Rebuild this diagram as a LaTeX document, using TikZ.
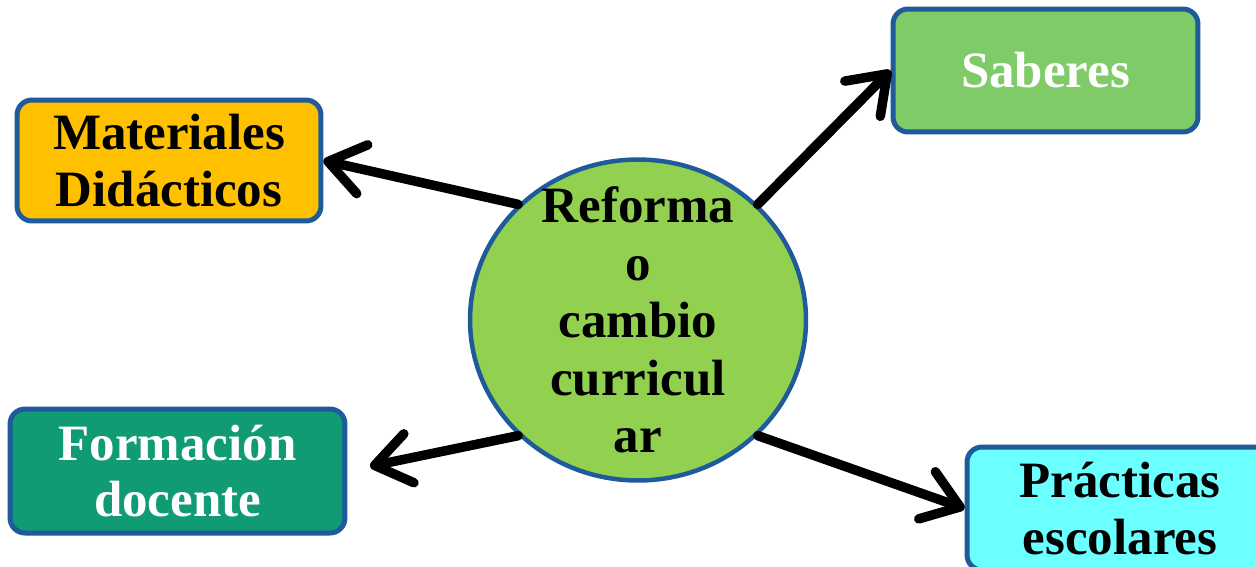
\documentclass[tikz,border=0pt]{standalone}
\usepackage{fontspec}
\setmainfont{Liberation Serif}
\usetikzlibrary{arrows.meta,shapes.geometric}

\definecolor{borde}{HTML}{1F5A9A}
\definecolor{amarillo}{HTML}{FFC000}
\definecolor{verdeclaro}{HTML}{7ECB67}
\definecolor{verdeoscuro}{HTML}{119B74}
\definecolor{celeste}{HTML}{6CFFFF}
\definecolor{verdecirc}{HTML}{92D050}

\tikzset{
  caja/.style={draw=borde, line width=0.1cm, rounded corners=0.3cm, align=center,
    font=\fontsize{29}{32}\selectfont\bfseries, inner sep=0pt},
  centro/.style={ellipse, draw=borde, line width=0.09cm, fill=verdecirc,
    minimum width=6.72cm, minimum height=6.42cm, inner sep=0pt},
  flecha/.style={line width=0.19cm, line cap=round,
    -{Straight Barb[length=0.7cm,width=1.0cm,line cap=round,line join=round]}}
}

\begin{document}
\begin{tikzpicture}[x=0.02cm, y=-0.02cm]
\clip (0, 0) rectangle (1256, 566);
\fill[white] (0, 0) rectangle (1256, 566);
\node[caja, fill=amarillo, minimum width=6.08cm, minimum height=2.42cm] (mat) at (169, 160.5) {Materiales\\Didácticos};
\node[caja, fill=verdeclaro, text=white, minimum width=6.1cm, minimum height=2.46cm] (sab) at (1045.5, 70.5) {Saberes};
\node[caja, fill=verdeoscuro, text=white, minimum width=6.7cm, minimum height=2.48cm] (form) at (177.5, 471) {Formación\\docente};
\node[caja, fill=celeste, minimum width=6.12cm, minimum height=2.46cm] (prac) at (1120, 508.5) {Prácticas\\escolares};
\node[centro] (ref) at (638, 320) {};
\node[align=center, font=\fontsize{29}{32.7}\selectfont\bfseries] (reftxt) at (ref) {Reforma\\o\\cambio\\curricul\\ar};
\draw[flecha] (ref.136) -- (mat.east);
\draw[flecha] (ref.44) -- (sab.west);
\draw[flecha, shorten >=0.46cm] (ref.224) -- (form.east);
\draw[flecha] (ref.316) -- (prac.west);
\end{tikzpicture}
\end{document}
